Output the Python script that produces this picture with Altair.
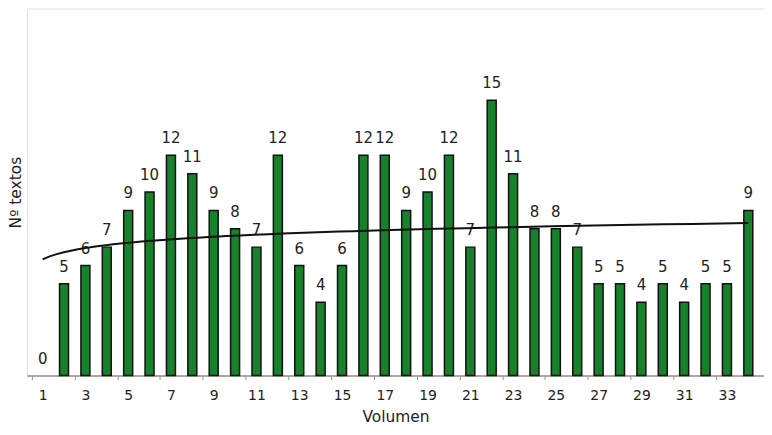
import altair as alt
import pandas as pd

volumen = list(range(1, 35))
textos = [0, 5, 6, 7, 9, 10, 12, 11, 9, 8, 7, 12, 6, 4, 6, 12, 12, 9, 10, 12,
          7, 15, 11, 8, 8, 7, 5, 5, 4, 5, 4, 5, 5, 9]

df = pd.DataFrame({"Volumen": volumen, "Textos": textos})

FONT = "DejaVu Sans"
W = 739
H = 368
half = W / 34 / 2
xscale = alt.Scale(domain=[0.5, 34.5], nice=False, zero=False)
yscale = alt.Scale(domain=[0, 20], nice=False)

base = alt.Chart(df)

xaxis = alt.Axis(
    values=volumen,
    labelExpr="datum.value % 2 == 1 ? datum.label : ''",
    tickOffset=-half, labelOffset=half,
    tickSize=4, tickColor="#9a9088", domainColor="#9a9088", domainWidth=1.5,
    grid=False, labelFont=FONT, labelFontSize=14, labelColor="#222222",
    labelPadding=9, labelFlush=False, labelOverlap=False,
    title="Volumen", titleFont=FONT, titleFontSize=15.5,
    titleFontWeight="normal", titleColor="#222222", titlePadding=7,
)

bars = base.transform_filter("datum.Textos > 0").mark_bar(
    width=9, color="#18812c", stroke="#111111", strokeWidth=1.5
).encode(
    x=alt.X("Volumen:Q", scale=xscale, axis=xaxis),
    y=alt.Y("Textos:Q", scale=yscale,
            axis=alt.Axis(labels=False, ticks=False, grid=False, domain=False,
                          title="Nº textos", titleFont=FONT, titleFontSize=15.5,
                          titleFontWeight="normal", titleColor="#222222", titlePadding=3)),
)

labels = base.mark_text(font=FONT, fontSize=15, color="#222222", baseline="bottom", dy=-9).encode(
    x=alt.X("Volumen:Q", scale=xscale),
    y=alt.Y("Textos:Q", scale=yscale),
    text="Textos:Q",
)

trend = base.transform_regression("Volumen", "Textos", method="log").mark_line(
    color="#111111", strokeWidth=2
).encode(
    x=alt.X("Volumen:Q", scale=xscale),
    y=alt.Y("Textos:Q", scale=yscale),
)

chart = alt.layer(bars, labels, trend).properties(
    width=W, height=H,
    autosize=alt.AutoSizeParams(type="none"),
    padding={"left": 19, "top": 0, "right": 0, "bottom": 55},
).configure_view(stroke="#8a8078", strokeWidth=2).configure(background="white")

chart.save("out.html", embed_options={"renderer": "svg", "actions": False})
